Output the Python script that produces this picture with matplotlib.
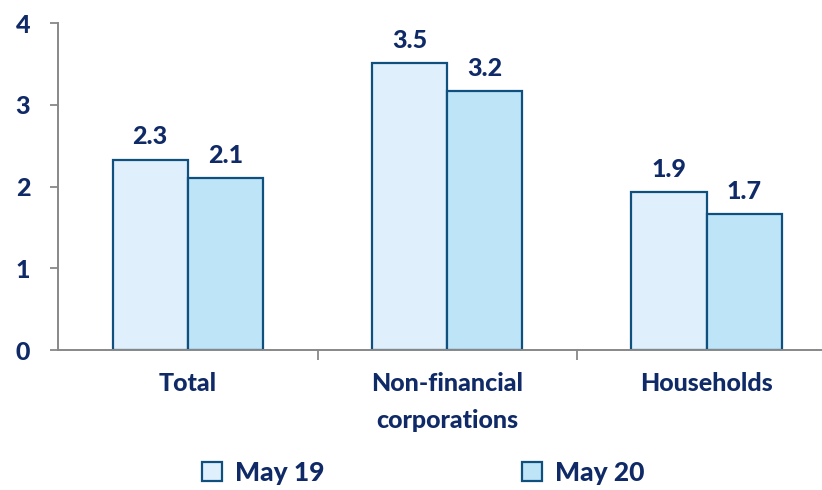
import matplotlib.pyplot as plt
import numpy as np

categories = ["Total", "Non-financial\ncorporations", "Households"]
may19 = [2.33, 3.51, 1.93]
may20 = [2.10, 3.17, 1.66]
series_names = ["May 19", "May 20"]

navy = "#0F2A66"
edge = "#10507E"
fills = ["#DFF0FC", "#BEE4F8"]

plt.rcParams["font.family"] = ["Lato", "DejaVu Sans"]
plt.rcParams["font.weight"] = "black"

fig = plt.figure(figsize=(8.22, 4.9), dpi=100)
# right edge of the axes runs past the figure, so the baseline is cut at the edge
ax = fig.add_axes([0.0706, 0.2857, 0.947, 0.6673])

x = np.arange(len(categories))
width = 0.29
bars1 = ax.bar(x - width / 2, may19, width, color=fills[0], edgecolor=edge,
               linewidth=1.6, label=series_names[0])
bars2 = ax.bar(x + width / 2, may20, width, color=fills[1], edgecolor=edge,
               linewidth=1.6, label=series_names[1])

for bars in (bars1, bars2):
    for b in bars:
        ax.annotate(f"{b.get_height():.1f}",
                    (b.get_x() + b.get_width() / 2, b.get_height()),
                    xytext=(0, 8), textcoords="offset points",
                    ha="center", va="bottom", fontsize=18,
                    fontweight="black", color=navy)

ax.set_xlim(-0.5, 2.5)
ax.set_ylim(0, 4)
ax.set_yticks([0, 1, 2, 3, 4])
ax.set_xticks([0.5, 1.5])
ax.set_xticklabels([])
ax.set_xticks(x, minor=True)
ax.set_xticklabels(categories, minor=True, fontsize=18, fontweight="black",
                   color=navy, linespacing=1.75)
ax.tick_params(axis="x", which="minor", length=0, pad=16)
ax.tick_params(axis="x", which="major", length=7, width=1.3, color="#888888",
               direction="out")
ax.tick_params(axis="y", length=6, width=1.3, color="#888888", pad=14,
               labelsize=18, labelcolor=navy)
for lab in ax.get_yticklabels():
    lab.set_fontweight("black")

for side in ("top", "right"):
    ax.spines[side].set_visible(False)
for side in ("left", "bottom"):
    ax.spines[side].set_color("#888888")
    ax.spines[side].set_linewidth(1.4)

fig.legend(handles=[bars1, bars2], labels=series_names, loc="center",
           bbox_to_anchor=(0.515, 0.035), ncol=2, frameon=False,
           handlelength=0.75, handleheight=0.75,
           columnspacing=7.5, handletextpad=0.5, labelcolor=navy,
           prop={"weight": "black", "size": 19})

fig.savefig("out.png", dpi=100)
